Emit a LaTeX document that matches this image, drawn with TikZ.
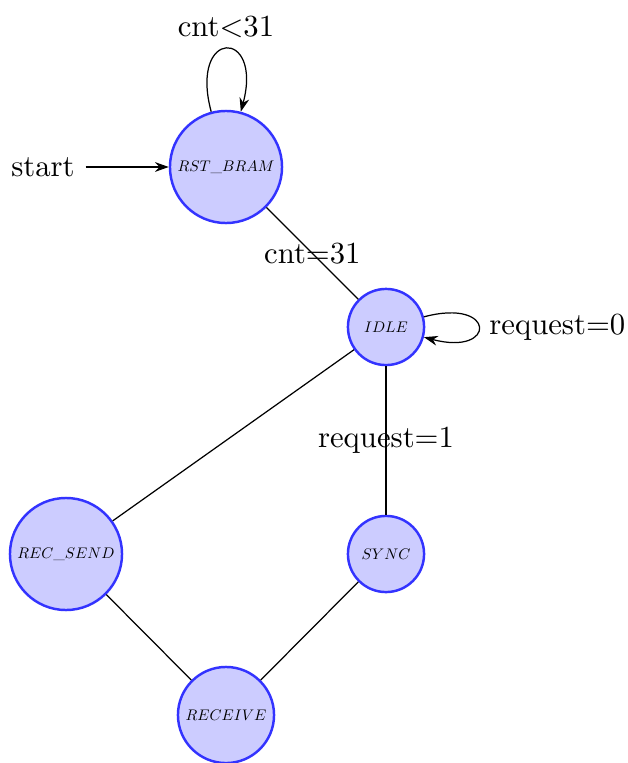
\documentclass[tikz,border=0pt]{standalone}
\usetikzlibrary{arrows.meta}
\newcommand{\statename}[1]{\scalebox{0.5}{$#1$}}
\begin{document}
\begin{tikzpicture}[x=0.3257pt,y=-0.3257pt,
  state/.style={circle,draw=blue!80,fill=blue!20,thick,inner sep=0pt},
  trans/.style={draw,-{Stealth[length=4.5pt,width=3.2pt]}},
  link/.style={draw}]
  \useasboundingbox (0,0) rectangle (628,763);
  % states
  \node[state,minimum size=36.5pt] (rst) at (226,167) {\statename{RST\_BRAM}};
  \node[state,minimum size=24.8pt] (idle) at (386,327) {\statename{IDLE}};
  \node[state,minimum size=36.5pt] (recsend) at (66,554) {\statename{REC\_SEND}};
  \node[state,minimum size=24.8pt] (sync) at (386,554) {\statename{SYNC}};
  \node[state,minimum size=31.3pt] (receive) at (226,715) {\statename{RECEIVE}};
  % initial arrow
  \node (start) at (43,167) {start};
  \draw[trans] (start) -- (rst);
  % self loops
  \path (rst) edge[trans,loop above,looseness=7.5] node[above] {cnt$<$31} (rst);
  \path (idle) edge[trans,loop right,looseness=9.5] node[right] {request=0} (idle);
  % transitions
  \draw[link] (rst) -- node {cnt=31} (idle);
  \draw[link] (idle) -- node {request=1} (sync);
  \draw[link] (idle) -- (recsend);
  \draw[link] (sync) -- (receive);
  \draw[link] (recsend) -- (receive);
\end{tikzpicture}
\end{document}
